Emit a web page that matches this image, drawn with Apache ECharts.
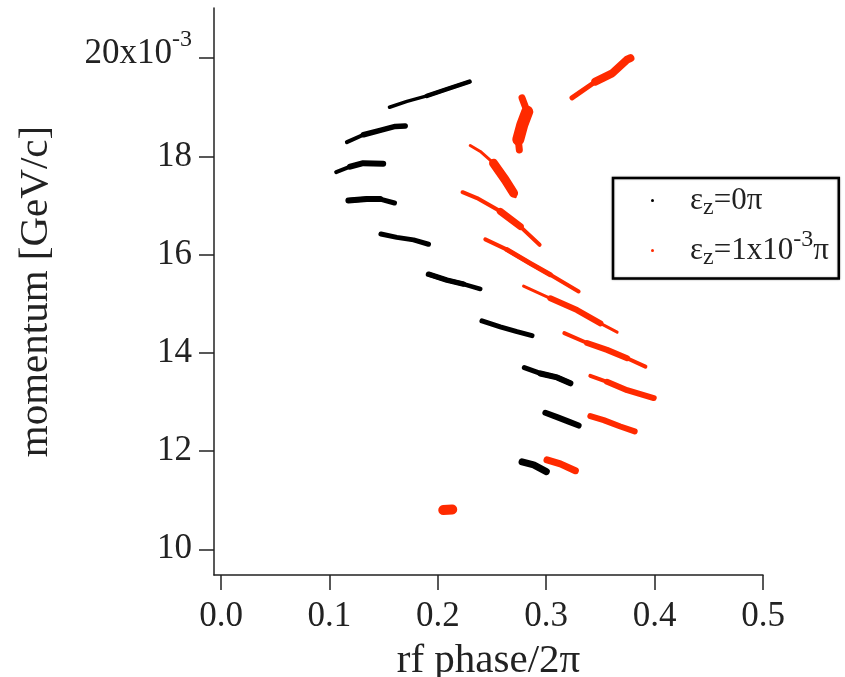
<!DOCTYPE html>
<html><head><meta charset="utf-8">
<script src="https://cdn.jsdelivr.net/npm/echarts@6/dist/echarts.min.js"></script>
<style>html,body{margin:0;padding:0;background:#fff}#c{width:845px;height:677px}</style>
</head><body><div id="c"></div>
<script>
// ---- axes ----
const xTickValues = [0, 0.1, 0.2, 0.3, 0.4, 0.5];
const yTickValues = [10, 12, 14, 16, 18, 20];
const seriesNames = ['εz=0π', 'εz=1x10-3π'];

// ---- εz = 0π bunches (rf phase/2π, momentum x1e-3 GeV/c) ----
const black1 = [[0.1554,19.00],[0.1715,19.12],[0.1899,19.23],[0.2084,19.37],[0.2293,19.52]];
const black2 = [[0.1161,18.29],[0.1314,18.44],[0.1468,18.53],[0.1607,18.61],[0.1699,18.62]];
const black3 = [[0.1062,17.68],[0.1191,17.79],[0.1311,17.86],[0.1496,17.85]];
const black4 = [[0.1175,17.10],[0.1345,17.13],[0.1468,17.13],[0.1600,17.05]];
const black5 = [[0.1475,16.42],[0.1622,16.35],[0.1776,16.30],[0.1914,16.21]];
const black6 = [[0.1914,15.60],[0.2084,15.48],[0.2237,15.40],[0.2392,15.30]];
const black7 = [[0.2407,14.65],[0.2576,14.53],[0.2730,14.43],[0.2869,14.35]];
const black8 = [[0.2798,13.70],[0.2946,13.58],[0.3100,13.50],[0.3223,13.38]];
const black9 = [[0.2992,12.78],[0.3100,12.69],[0.3207,12.60],[0.3299,12.52]];
const black10 = [[0.2777,11.78],[0.2884,11.72],[0.3001,11.58]];

// ---- εz = 1x10^-3 π bunches ----
const red0 = [[0.3238,19.19],[0.3453,19.52],[0.3608,19.69],[0.3746,19.97],[0.3777,20.00]];
const red1 = [[0.2777,19.19],[0.2825,18.91],[0.2779,18.64],[0.2742,18.34],[0.2752,18.13]];
const red2 = [[0.2299,18.22],[0.2392,18.10],[0.2514,17.86],[0.2622,17.52],[0.2699,17.25],[0.2715,17.18]];
const red3 = [[0.2228,17.27],[0.2361,17.15],[0.2576,16.88],[0.2761,16.57],[0.2939,16.20]];
const red4 = [[0.2438,16.31],[0.2638,16.10],[0.2853,15.82],[0.3038,15.59],[0.3299,15.25]];
const red5 = [[0.2791,15.36],[0.3038,15.11],[0.3284,14.87],[0.3500,14.60],[0.3654,14.42]];
const red6 = [[0.3167,14.40],[0.3377,14.20],[0.3561,14.06],[0.3746,13.89],[0.3915,13.72]];
const red7 = [[0.3407,13.53],[0.3561,13.41],[0.3746,13.24],[0.3992,13.08]];
const red8 = [[0.3407,12.71],[0.3530,12.63],[0.3684,12.50],[0.3816,12.40]];
const red9 = [[0.3007,11.82],[0.3130,11.74],[0.3269,11.60]];
const red10 = [[0.2050,10.80],[0.2133,10.81]];

const blackBunches = [black1, black2, black3, black4, black5, black6, black7, black8, black9, black10];
const redBunches = [red0, red1, red2, red3, red4, red5, red6, red7, red8, red9, red10];

// ---- drawing styles (pixel widths) ----
const blackStyle = [
  {w:3.5, core:[2,4], cw:4.5}, {w:4, core:[1,4], cw:5.5}, {w:4, core:[1,3], cw:6}, {w:5, core:[0,2], cw:6},
  {w:5}, {w:4.5, core:[0,2], cw:5.5}, {w:5}, {w:5, core:[1,3], cw:6}, {w:6}, {w:7}
];
const redStyle = [
  {w:5, core:[1,4], cw:8}, {w:7, core:[1,3], cw:12}, {w:3, core:[2,4], cw:9}, {w:4, core:[2,3], cw:7},
  {w:4, core:[1,3], cw:5}, {w:3, core:[1,3], cw:6}, {w:4, core:[1,3], cw:6}, {w:4, core:[1,3], cw:6},
  {w:6}, {w:7}, {w:10}
];

const BLACK = '#000000', RED = '#ff2a00';
const FONT = 'Liberation Serif';

function streak(name, color, pts, st) {
  const mk = (data, w) => ({
    type: 'line', name: name, data: data, symbol: 'none', silent: true,
    animation: false, clip: true,
    itemStyle: {color: color},
    lineStyle: {color: color, width: w, cap: 'round', join: 'round'}
  });
  const out = [mk(pts, st.w)];
  if (st.core) out.push(mk(pts.slice(st.core[0], st.core[1] + 1), st.cw));
  return out;
}

const series = [];
blackBunches.forEach((p, i) => series.push(...streak(seriesNames[0], BLACK, p, blackStyle[i])));
redBunches.forEach((p, i) => series.push(...streak(seriesNames[1], RED, p, redStyle[i])));

const axisColor = '#222';
const chart = echarts.init(document.getElementById('c'), null, {renderer: 'canvas'});
chart.setOption({
  animation: false,
  backgroundColor: '#fff',
  grid: {left: 214, right: 82, top: 8, bottom: 102, containLabel: false, outerBoundsMode: 'none'},
  xAxis: {
    type: 'value', min: -0.0065, max: 0.5,
    name: 'rf phase/2π', nameLocation: 'middle', nameGap: 66, nameMoveOverlap: false,
    nameTextStyle: {fontFamily: FONT, fontSize: 41, color: axisColor},
    axisLine: {show: true, onZero: false, lineStyle: {color: axisColor, width: 1.5}},
    axisTick: {show: true, length: 15, customValues: xTickValues, lineStyle: {color: axisColor, width: 1.5}},
    axisLabel: {customValues: xTickValues, formatter: v => v.toFixed(1), margin: 24,
      fontFamily: FONT, fontSize: 35, color: axisColor},
    splitLine: {show: false}
  },
  yAxis: {
    type: 'value', min: 9.477, max: 21.02,
    name: 'momentum [GeV/c]', nameLocation: 'middle', nameGap: 157, nameRotate: 90, nameMoveOverlap: false,
    nameTextStyle: {fontFamily: FONT, fontSize: 41, color: axisColor},
    axisLine: {show: true, onZero: false, lineStyle: {color: axisColor, width: 1.5}},
    axisTick: {show: true, length: 15, customValues: yTickValues, lineStyle: {color: axisColor, width: 1.5}},
    axisLabel: {customValues: yTickValues, margin: 22, fontFamily: FONT, fontSize: 35, color: axisColor,
      formatter: v => v === 20 ? '{a|20x10}{s|-3}' : String(v),
      rich: {
        a: {fontFamily: FONT, fontSize: 35, color: axisColor, padding: [0, 0, 8, 0]},
        s: {fontFamily: FONT, fontSize: 24, color: axisColor, padding: [0, 0, 36, 0]}
      }},
    splitLine: {show: false}
  },
  legend: {
    show: true, data: seriesNames, orient: 'vertical', left: 613, top: 178,
    icon: 'circle', itemWidth: 3, itemHeight: 3, itemGap: 8,
    padding: [7, 10, 9, 38], borderColor: '#000', borderWidth: 2.5, backgroundColor: '#fff',
    shadowColor: 'rgba(0,0,0,0.35)', shadowBlur: 2, selectedMode: false,
    formatter: n => n === seriesNames[0] ? '{gap| }ε{sub|z}=0π' : '{gap| }ε{sub|z}=1x10{sup|-3}π',
    textStyle: {fontFamily: FONT, fontSize: 31, color: axisColor,
      rich: {
        gap: {width: 31, fontSize: 31},
        sub: {fontFamily: FONT, fontSize: 24, color: axisColor, padding: [14, 0, 0, 0]},
        sup: {fontFamily: FONT, fontSize: 24, color: axisColor, padding: [0, 0, 22, 0]}
      }}
  },
  series: series
});
</script></body></html>
